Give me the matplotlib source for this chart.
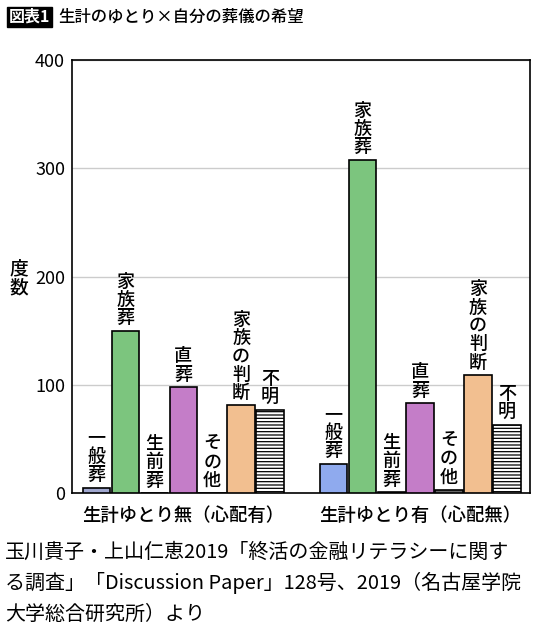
import matplotlib
matplotlib.use("Agg")
import matplotlib.pyplot as plt
import numpy as np

plt.rcParams['font.family'] = ['Noto Sans CJK JP', 'DejaVu Sans']
plt.rcParams['hatch.linewidth'] = 0.9

categories = ["一般葬", "家族葬", "生前葬", "直葬", "その他", "家族の判断", "不明"]
groups = ["生計ゆとり無（心配有）", "生計ゆとり有（心配無）"]
values_no = [5, 150, 0, 98, 0, 81, 77]
values_yes = [27, 308, 1, 83, 3, 109, 63]
colors_no = ["#a0a7cf", "#7cc57e", "#ffffff", "#c47dc8", "#ffffff", "#f2bf90", "#ffffff"]
colors_yes = ["#8faaee", "#7cc57e", "#111111", "#c47dc8", "#666666", "#f2bf90", "#ffffff"]
hatches = [None, None, None, None, None, None, "-----"]
yticks = [0, 100, 200, 300, 400]

fig = plt.figure(figsize=(5.4, 6.35), dpi=100)
ax = fig.add_axes([72/540, 1-493/635, (530-72)/540, (493-60)/635])

n = len(categories)
group_offsets = [0.0, 8.2]
width = 0.95
for gi, (vals, cols) in enumerate([(values_no, colors_no), (values_yes, colors_yes)]):
    xs = np.arange(n) + group_offsets[gi]
    for x, v, c, h, lab in zip(xs, vals, cols, hatches, categories):
        ax.bar(x, v, width=width, color=c, edgecolor="black", linewidth=1.2,
               hatch=h, zorder=3)
        ax.annotate("\n".join(lab), xy=(x, v), xytext=(0, 2.5),
                    textcoords="offset points", ha="center", va="bottom",
                    fontsize=13, fontweight="medium", linespacing=1.02, zorder=4)
    ax.text(xs.mean(), -0.052, groups[gi], transform=ax.get_xaxis_transform(),
            ha="center", va="center", fontsize=13.2, fontweight="medium")

ax.set_ylim(0, 400)
ax.set_xlim(-0.85, 15.0)
ax.set_yticks(yticks)
ax.set_yticklabels([str(t) for t in yticks], fontsize=13)
ax.tick_params(axis="y", length=0, pad=5)
ax.set_xticks([])
ax.grid(axis="y", color="#cccccc", linewidth=1.0, zorder=0)
for s in ax.spines.values():
    s.set_linewidth(1.2)
    s.set_color("black")

fig.text(19/540, 1-278/635, "度\n数", ha="center", va="center",
         fontsize=13.5, fontweight="medium", linespacing=1.0)

fig.text(9/540, 1-17/635, "図表1", ha="left", va="center", color="white",
         fontsize=11.5, fontweight="bold",
         bbox=dict(facecolor="black", edgecolor="black", pad=1.5))
fig.text(58/540, 1-17/635, "生計のゆとり×自分の葬儀の希望", ha="left", va="center",
         fontsize=11.8, fontweight="medium")

foot = ["玉川貴子・上山仁恵2019「終活の金融リテラシーに関す",
        "る調査」「Discussion Paper」128号、2019（名古屋学院",
        "大学総合研究所）より"]
for i, line in enumerate(foot):
    fig.text(5/540, 1-(552+31*i)/635, line, ha="left", va="center", fontsize=14.4)

fig.savefig("out.png", dpi=100)
